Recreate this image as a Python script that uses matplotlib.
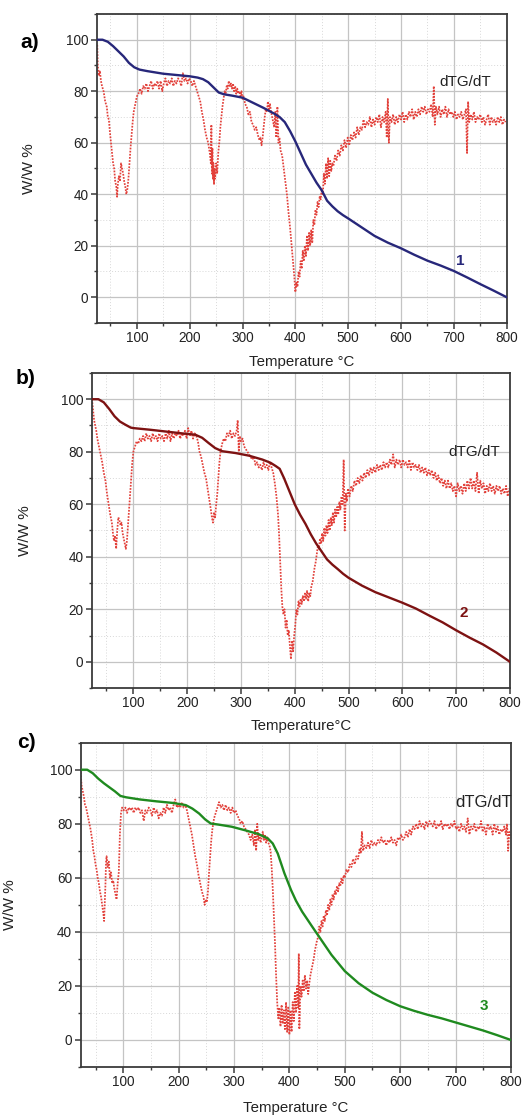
import matplotlib
matplotlib.use("Agg")
import matplotlib.pyplot as plt
from matplotlib.ticker import MultipleLocator

plt.rcParams['font.family'] = ['Liberation Sans', 'DejaVu Sans']

########### DATA ###########
# TG curves, sample 1..3
tg1_t = [25, 35, 45, 55, 65, 75, 85, 95, 105, 120, 150, 180, 200, 215, 225, 235, 245, 255, 265, 280,
         300, 320, 340, 360, 370, 380, 390, 400, 410, 420, 430, 440, 450, 460, 470, 480, 490, 500,
         525, 550, 575, 600, 625, 650, 675, 700, 725, 750, 775, 800]
tg1_w = [100, 100, 99.2, 97.5, 95.5, 93.5, 91, 89.3, 88.4, 87.8, 86.8, 86.2, 85.8, 85.3, 84.7, 83.5,
         81.5, 79.5, 78.8, 78.3, 77.5, 75.5, 73.5, 71.3, 70, 68, 64.5, 60.5, 56, 51.5, 48, 44.5, 41.5,
         37.5, 35.3, 33.4, 31.9, 30.6, 27.2, 23.8, 21.2, 19, 16.5, 14.2, 12.3, 10.2, 7.7, 5.1, 2.6, 0]

tg2_t = [23, 35, 45, 55, 65, 75, 85, 95, 100, 130, 160, 190, 215, 228, 240, 252, 265, 290, 315, 340,
         355, 365, 372, 380, 390, 400, 410, 420, 430, 440, 450, 460, 470, 480, 490, 500, 525, 550,
         575, 600, 625, 650, 675, 700, 725, 750, 775, 800]
tg2_w = [100, 100, 98.8, 96.3, 93.5, 91.5, 90.3, 89.2, 89, 88.4, 87.7, 87, 86.5, 85.3, 83.3, 81.4,
         80.2, 79.5, 78.5, 77, 75.8, 74.5, 73.5, 70, 65, 60, 56, 52.5, 48.5, 45, 42, 39, 37, 35.3,
         33.5, 32, 29, 26.5, 24.5, 22.5, 20.3, 17.6, 15, 12, 9.2, 6.6, 3.5, 0]

tg3_t = [23, 35, 45, 55, 65, 75, 85, 95, 105, 130, 160, 190, 213, 225, 237, 248, 258, 272, 296, 320,
         344, 361, 370, 379, 391, 403, 412, 423, 441, 456, 476, 500, 525, 550, 575, 600, 625, 650,
         675, 700, 725, 750, 775, 800]
tg3_w = [100, 100, 98.7, 96.7, 95, 93.5, 92, 90.3, 89.8, 89, 88.3, 87.7, 86.9, 85.6, 83.8, 81.6,
         80.1, 79.7, 78.9, 77.6, 76.2, 74.6, 72.7, 69, 61.7, 55.5, 51.5, 47.5, 42, 37.5, 31.5, 25.5,
         21, 17.5, 14.8, 12.5, 10.8, 9.3, 8, 6.5, 5, 3.5, 1.8, 0]

# dTG/dT traces (noisy, dotted)
dtg1 = [(25, 98), (26, 90), (28, 86), (30, 88), (32, 84), (34, 82), (37, 80), (40, 76), (43, 74), (45, 70),
        (47, 69), (49, 64), (51, 60), (53, 56), (55, 52), (57, 50), (59, 45), (61, 43), (62.5, 39), (64, 44),
        (66, 47), (68, 45), (70, 52), (72, 50), (74, 48), (76, 45), (78, 43), (80, 40), (82, 42), (84, 46),
        (86, 52), (88, 58), (90, 63), (92, 68), (94, 72), (97, 75), (100, 78), (103, 79), (106, 81), (109, 79),
        (112, 82), (115, 81), (118, 83), (121, 80), (124, 82), (127, 84), (130, 81), (133, 83), (136, 82),
        (139, 84), (142, 81), (145, 84), (148, 80), (151, 83), (154, 85), (157, 82), (160, 84), (163, 83),
        (166, 85), (169, 82), (172, 84), (175, 83), (178, 85), (181, 84), (184, 82), (187, 87), (190, 84),
        (193, 85), (196, 83), (199, 85), (202, 84), (205, 82), (208, 84), (211, 82), (214, 80), (217, 78),
        (220, 76), (223, 72), (226, 69), (229, 65), (232, 62), (235, 60), (238, 56), (240, 52), (241, 67),
        (242, 48), (243, 58), (244, 46), (245, 52), (246, 44), (247, 50), (248, 46), (250, 52), (252, 48),
        (254, 56), (256, 60), (258, 66), (260, 70), (262, 74), (264, 77), (266, 80), (268, 79), (270, 82),
        (272, 81), (274, 84), (276, 82), (278, 83), (280, 81), (282, 83), (284, 80), (286, 82), (288, 79),
        (290, 81), (292, 79), (294, 80), (296, 78), (298, 80), (300, 77), (302, 78), (305, 75), (308, 74),
        (311, 71), (314, 72), (317, 68), (320, 67), (323, 65), (326, 66), (329, 63), (332, 61), (334, 62),
        (336, 59), (338, 62), (340, 66), (342, 70), (344, 73), (346, 72), (348, 76), (350, 73), (352, 75),
        (354, 72), (356, 70), (358, 68), (360, 66), (362, 72), (364, 62), (366, 74), (368, 60), (370, 62),
        (372, 57), (375, 55), (378, 50), (381, 45), (384, 40), (387, 33), (390, 27), (393, 20), (396, 13),
        (398, 8), (400, 2), (402, 6), (404, 4), (406, 10), (408, 8), (410, 14), (412, 11), (414, 18),
        (416, 14), (418, 20), (420, 16), (422, 24), (424, 18), (426, 25), (428, 20), (430, 26), (432, 21),
        (434, 30), (436, 28), (438, 34), (440, 32), (442, 37), (444, 35), (446, 39), (448, 38), (450, 42),
        (452, 40), (454, 48), (456, 44), (458, 52), (460, 46), (462, 54), (464, 47), (466, 53), (468, 49),
        (470, 52), (472, 51), (475, 55), (478, 53), (481, 57), (484, 55), (487, 59), (490, 57), (493, 61),
        (496, 58), (499, 62), (502, 59), (505, 63), (508, 61), (511, 64), (514, 62), (517, 66), (520, 63),
        (523, 66), (526, 65), (529, 69), (532, 66), (535, 68), (538, 67), (541, 70), (544, 66), (547, 69),
        (550, 67), (553, 70), (556, 68), (559, 71), (562, 66), (565, 70), (568, 68), (571, 72), (573, 62),
        (575, 77), (577, 60), (579, 70), (582, 68), (585, 71), (588, 67), (591, 70), (594, 68), (597, 71),
        (600, 69), (603, 72), (606, 68), (609, 71), (612, 69), (615, 72), (618, 70), (621, 73), (624, 69),
        (627, 72), (630, 70), (633, 73), (636, 71), (639, 74), (642, 72), (645, 74), (648, 71), (651, 73),
        (654, 72), (657, 75), (660, 70), (662, 82), (664, 67), (666, 74), (669, 71), (672, 74), (675, 70),
        (678, 73), (681, 71), (684, 74), (687, 70), (690, 73), (693, 71), (696, 72), (699, 70), (702, 72),
        (705, 69), (708, 71), (711, 70), (714, 72), (717, 69), (720, 71), (723, 73), (725, 56), (727, 76),
        (729, 68), (732, 71), (735, 69), (738, 72), (741, 68), (744, 70), (747, 69), (750, 71), (753, 68),
        (756, 70), (759, 67), (762, 69), (765, 71), (768, 67), (771, 70), (774, 68), (777, 69), (780, 67),
        (783, 70), (786, 68), (789, 70), (792, 67), (795, 69), (798, 68)]

dtg2 = [(23, 100), (25, 96), (27, 92), (29, 90), (31, 88), (33, 85), (36, 82), (39, 79), (42, 76), (45, 72),
        (48, 69), (51, 64), (54, 60), (57, 56), (60, 53), (62, 49), (64, 46), (66, 48), (68, 43), (70, 50),
        (72, 55), (74, 54), (76, 52), (78, 53), (80, 49), (82, 47), (84, 45), (86, 43), (88, 46), (90, 52),
        (92, 58), (94, 64), (96, 70), (98, 76), (100, 80), (103, 82), (106, 84), (109, 83), (112, 85),
        (115, 84), (118, 86), (121, 84), (124, 87), (127, 85), (130, 86), (133, 84), (136, 87), (139, 85),
        (142, 86), (145, 84), (148, 87), (151, 85), (154, 86), (157, 84), (160, 87), (163, 85), (166, 88),
        (169, 84), (172, 87), (175, 85), (178, 87), (181, 86), (184, 88), (187, 85), (190, 87), (193, 86),
        (196, 88), (199, 85), (202, 89), (205, 86), (208, 88), (211, 85), (214, 87), (217, 86), (220, 84),
        (223, 80), (226, 78), (229, 75), (232, 72), (235, 70), (238, 66), (241, 62), (244, 58), (246, 55),
        (248, 53), (250, 57), (252, 55), (254, 60), (256, 64), (258, 70), (260, 76), (262, 80), (265, 83),
        (268, 85), (271, 84), (274, 87), (277, 86), (280, 88), (283, 85), (286, 87), (289, 86), (292, 88),
        (294, 92), (296, 80), (298, 86), (300, 84), (303, 85), (306, 82), (309, 81), (312, 80), (315, 79),
        (318, 78), (321, 77), (324, 78), (327, 75), (330, 76), (333, 74), (336, 75), (339, 73), (342, 76),
        (345, 74), (348, 75), (351, 73), (354, 76), (357, 74), (360, 72), (363, 68), (366, 63), (369, 56),
        (371, 48), (373, 38), (375, 28), (377, 21), (379, 18), (381, 20), (383, 13), (385, 16), (387, 10),
        (389, 12), (391, 6), (393, 1), (395, 8), (397, 4), (399, 10), (401, 14), (403, 20), (405, 18),
        (407, 23), (409, 21), (411, 24), (413, 22), (415, 25), (417, 23), (419, 26), (421, 24), (423, 27),
        (425, 23), (427, 26), (429, 25), (431, 29), (433, 30), (435, 33), (437, 36), (439, 38), (441, 41),
        (443, 44), (445, 43), (447, 47), (449, 45), (451, 49), (453, 46), (455, 51), (457, 48), (459, 52),
        (461, 49), (463, 54), (465, 50), (467, 55), (469, 52), (471, 57), (473, 53), (475, 58), (477, 55),
        (479, 59), (481, 56), (483, 61), (485, 58), (487, 63), (489, 60), (491, 77), (493, 50), (495, 64),
        (497, 61), (499, 66), (502, 63), (505, 67), (508, 65), (511, 69), (514, 67), (517, 70), (520, 68),
        (523, 71), (526, 69), (529, 72), (532, 70), (535, 73), (538, 71), (541, 74), (544, 72), (547, 74),
        (550, 72), (553, 75), (556, 73), (559, 75), (562, 73), (565, 76), (568, 74), (571, 76), (574, 74),
        (577, 77), (580, 75), (583, 79), (586, 74), (589, 77), (592, 75), (595, 77), (598, 74), (601, 77),
        (604, 75), (607, 76), (610, 74), (613, 77), (616, 73), (619, 76), (622, 74), (625, 75), (628, 73),
        (631, 75), (634, 72), (637, 74), (640, 72), (643, 74), (646, 71), (649, 73), (652, 71), (655, 73),
        (658, 70), (661, 72), (664, 69), (667, 71), (670, 68), (673, 70), (676, 67), (679, 69), (682, 66),
        (685, 69), (688, 66), (691, 68), (694, 65), (697, 67), (700, 63), (703, 68), (706, 65), (709, 67),
        (712, 64), (715, 68), (718, 65), (721, 69), (724, 66), (727, 70), (730, 66), (733, 69), (736, 65),
        (739, 72), (742, 64), (745, 69), (748, 66), (751, 68), (754, 64), (757, 67), (760, 65), (763, 68),
        (766, 65), (769, 67), (772, 64), (775, 67), (778, 65), (781, 67), (784, 64), (787, 66), (790, 64),
        (793, 67), (796, 63), (799, 66)]

dtg3 = [(23, 99), (25, 94), (27, 92), (29, 90), (31, 87), (33, 86), (35, 84), (38, 81), (41, 78), (44, 74),
        (46, 70), (48, 68), (50, 65), (52, 63), (54, 60), (56, 58), (58, 55), (60, 53), (62, 50), (64, 47),
        (65.5, 44), (67, 52), (68, 58), (69, 66), (70, 68), (72, 64), (74, 66), (76, 60), (78, 62), (80, 58),
        (82, 59), (84, 56), (86, 54), (88, 52), (90, 58), (92, 62), (94, 76), (96, 84), (98, 86), (101, 85),
        (104, 86), (107, 84), (110, 86), (113, 85), (116, 86), (119, 84), (122, 86), (125, 85), (128, 86),
        (131, 84), (134, 85), (137, 81), (140, 85), (143, 84), (146, 86), (149, 85), (152, 83), (155, 86),
        (158, 84), (161, 85), (164, 82), (167, 84), (170, 83), (173, 86), (176, 84), (179, 87), (182, 85),
        (185, 86), (188, 84), (191, 87), (194, 89), (197, 86), (200, 87), (203, 86), (206, 88), (209, 86),
        (212, 87), (215, 85), (218, 82), (221, 79), (224, 76), (227, 72), (230, 68), (233, 65), (236, 61),
        (239, 58), (242, 55), (245, 53), (247, 50), (249, 52), (251, 51), (253, 55), (255, 62), (257, 68),
        (259, 74), (261, 78), (264, 82), (267, 84), (270, 86), (273, 88), (276, 86), (279, 87), (282, 85),
        (285, 87), (288, 85), (291, 86), (294, 84), (297, 86), (300, 84), (303, 85), (306, 83), (309, 82),
        (312, 80), (315, 81), (318, 79), (321, 78), (324, 77), (327, 76), (330, 74), (333, 76), (336, 72),
        (338, 78), (340, 70), (342, 80), (344, 74), (346, 76), (348, 73), (350, 75), (352, 77), (354, 74),
        (356, 76), (358, 73), (360, 75), (362, 73), (364, 72), (366, 70), (368, 64), (370, 56), (372, 46),
        (374, 36), (376, 24), (378, 14), (380, 8), (382, 12), (384, 5), (386, 13), (388, 6), (390, 11),
        (392, 4), (394, 14), (396, 3), (398, 12), (400, 2), (402, 11), (404, 3), (406, 14), (408, 7),
        (410, 18), (412, 10), (414, 20), (416, 12), (417, 32), (418, 4), (420, 20), (422, 16), (424, 22),
        (426, 18), (428, 24), (430, 19), (432, 22), (434, 17), (436, 21), (438, 24), (440, 26), (442, 28),
        (444, 30), (446, 33), (448, 35), (450, 37), (452, 38), (454, 42), (456, 40), (458, 44), (460, 42),
        (462, 46), (464, 44), (466, 48), (468, 46), (470, 50), (472, 48), (474, 52), (476, 50), (478, 54),
        (480, 52), (482, 55), (484, 54), (486, 57), (488, 55), (490, 58), (492, 57), (494, 60), (496, 58),
        (498, 61), (500, 60), (503, 63), (506, 62), (509, 65), (512, 64), (515, 67), (518, 65), (521, 68),
        (524, 67), (527, 71), (529, 69), (531, 77), (533, 70), (536, 72), (539, 71), (542, 73), (545, 71),
        (548, 74), (551, 72), (554, 73), (557, 72), (560, 74), (563, 73), (566, 75), (569, 73), (572, 74),
        (575, 72), (578, 74), (581, 73), (584, 75), (587, 73), (590, 74), (593, 72), (596, 75), (599, 74),
        (602, 76), (605, 74), (608, 75), (611, 77), (614, 75), (617, 78), (620, 76), (623, 79), (626, 78),
        (629, 80), (632, 78), (635, 81), (638, 79), (641, 80), (644, 78), (647, 81), (650, 79), (653, 81),
        (656, 80), (659, 79), (662, 81), (665, 78), (668, 80), (671, 79), (674, 81), (677, 78), (680, 80),
        (683, 79), (686, 80), (689, 78), (692, 80), (695, 79), (698, 81), (701, 78), (704, 79), (707, 77),
        (710, 80), (713, 78), (716, 79), (719, 77), (722, 82), (725, 76), (728, 79), (731, 78), (734, 80),
        (737, 77), (740, 79), (743, 78), (746, 81), (749, 77), (752, 79), (755, 76), (758, 80), (761, 78),
        (764, 79), (767, 76), (770, 80), (773, 77), (776, 79), (779, 76), (782, 78), (785, 77), (788, 79),
        (791, 76), (793, 80), (795, 70), (797, 77), (799, 75)]

panel_tags = ["a)", "b)", "c)"]
sample_ids = ["1", "2", "3"]
x_labels = ["Temperature °C", "Temperature°C", "Temperature °C"]
##################################################

TG_COLORS = ["#27277a", "#7d1212", "#1f8a1f"]
DTG_COLOR = "#e2413b"

fig = plt.figure(figsize=(5.3, 11.18), dpi=100)

# [left, bottom, width, height] in figure fraction, plus xlim start
panels = [
    dict(rect=[0.1825, 0.7111, 0.7735, 0.2764], x0=24, tag_xy=(30, 43), ylab_x=-0.148, xlab_y=-0.127,
         dtg_lab=(722, 83.5, 11), id_xy=(712, 14)),
    dict(rect=[0.173, 0.3846, 0.789, 0.2818], x0=22.5, tag_xy=(26, 378), ylab_x=-0.143, xlab_y=-0.122,
         dtg_lab=(733, 80, 11), id_xy=(714, 18.7)),
    dict(rect=[0.152, 0.0456, 0.812, 0.2901], x0=23, tag_xy=(26, 743), ylab_x=-0.147, xlab_y=-0.125,
         dtg_lab=(750, 88, 12), id_xy=(751, 12.5)),
]
tg_data = [(tg1_t, tg1_w), (tg2_t, tg2_w), (tg3_t, tg3_w)]
dtg_data = [dtg1, dtg2, dtg3]

for i, p in enumerate(panels):
    ax = fig.add_axes(p["rect"])
    dt = [d[0] for d in dtg_data[i]]
    dw = [d[1] for d in dtg_data[i]]
    ax.plot(dt, dw, color=DTG_COLOR, lw=1.25, ls=(0, (1, 0.8)), zorder=2)
    ax.plot(tg_data[i][0], tg_data[i][1], color=TG_COLORS[i], lw=1.7, zorder=3)

    ax.set_xlim(p["x0"], 800)
    ax.set_ylim(-10, 110)
    ax.xaxis.set_major_locator(MultipleLocator(100))
    ax.xaxis.set_minor_locator(MultipleLocator(50))
    ax.yaxis.set_major_locator(MultipleLocator(20))
    ax.yaxis.set_minor_locator(MultipleLocator(10))
    ax.set_xticks([100, 200, 300, 400, 500, 600, 700, 800])
    ax.set_yticks([0, 20, 40, 60, 80, 100])

    ax.grid(which="major", color="#c4c4c4", lw=0.9, ls="-", zorder=0)
    ax.grid(which="minor", color="#d8d8d8", lw=0.7, ls=(0, (1, 2)), zorder=0)
    ax.set_axisbelow(True)
    for s in ax.spines.values():
        s.set_color("#3a3a3a")
        s.set_linewidth(1.3)
    ax.tick_params(which="major", direction="out", length=4, width=1.1, color="#3a3a3a",
                   labelsize=9.8, pad=2, labelcolor="#222222")
    ax.tick_params(which="minor", direction="out", length=2.5, width=1.0, color="#3a3a3a")

    ax.set_ylabel("W/W %", fontsize=11, color="#222222")
    ax.yaxis.set_label_coords(p["ylab_x"], 0.5)
    ax.set_xlabel(x_labels[i], fontsize=10.8, color="#222222", va="center")
    ax.xaxis.set_label_coords(0.5, p["xlab_y"])

    lx, ly, lfs = p["dtg_lab"]
    ax.text(lx, ly, "dTG/dT", fontsize=lfs, ha="center", va="center", color="#222222")
    ax.text(p["id_xy"][0], p["id_xy"][1], sample_ids[i], fontsize=11, fontweight="bold",
            ha="center", va="center", color=TG_COLORS[i])

    fig.text(p["tag_xy"][0] / 530, 1 - p["tag_xy"][1] / 1118, panel_tags[i], fontsize=15,
             fontweight="bold", ha="center", va="center")

fig.savefig("out.png", dpi=100)
